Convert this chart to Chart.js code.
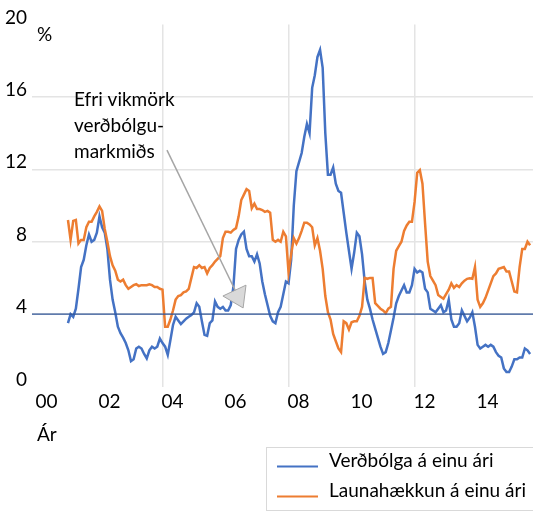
<!DOCTYPE html>
<html>
<head>
<meta charset="utf-8">
<script src="https://cdn.jsdelivr.net/npm/chart.js@4.4.1/dist/chart.umd.min.js"></script>
<style>
  html, body { margin: 0; padding: 0; background: #fff; }
  #wrap { width: 533px; height: 511px; }
</style>
</head>
<body>
<div id="wrap"><canvas id="chart" width="533" height="511"></canvas></div>
<script>
// Monthly 12-month changes, Jan 2001 onwards (index 0 = Jan 2001)
const FIRST_YEAR = 2001;

const inflation = [
  3.5, 4.0, 3.85, 4.3, 5.4, 6.6, 7.0, 7.8, 8.4, 8.0, 8.1, 8.5,
  9.4, 8.8, 8.5, 7.6, 5.9, 4.8, 4.1, 3.3, 2.95, 2.7, 2.4, 2.0,
  1.4, 1.5, 2.1, 2.2, 2.1, 1.8, 1.55, 2.0, 2.2, 2.1, 2.2, 2.65,
  2.4, 2.2, 1.75, 2.55, 3.4, 3.85, 3.65, 3.45, 3.6, 3.75, 3.85, 3.95,
  4.1, 4.6, 4.4, 3.6, 2.85, 2.8, 3.5, 3.65, 4.7, 4.4, 4.3, 4.4,
  4.2, 4.2, 4.5, 5.5, 7.6, 8.1, 8.4, 8.55, 7.6, 7.2, 7.2, 6.9,
  7.3, 6.8, 5.8, 5.1, 4.5, 3.9, 3.6, 3.5, 4.1, 4.4, 5.1, 5.8,
  5.7, 7.0, 10.0, 11.9, 12.4, 12.9, 13.8, 14.5, 14.0, 16.5, 17.2, 18.2,
  18.6, 17.6, 14.0, 11.7, 11.7, 12.1, 11.2, 10.8, 10.7, 9.6, 8.5, 7.5,
  6.5, 7.4, 8.5, 8.3, 7.3, 5.8, 4.8, 4.3, 3.7, 3.2, 2.7, 2.2,
  1.8, 1.9, 2.4, 3.1, 3.8, 4.6, 5.0, 5.3, 5.6, 5.2, 5.2, 5.6,
  6.5, 6.3, 6.4, 6.3, 5.4, 5.2, 4.3, 4.2, 4.1, 4.3, 4.5, 4.1,
  4.2, 4.8, 3.7, 3.3, 3.3, 3.5, 4.2, 3.9, 3.6, 3.8, 4.1, 3.3,
  2.3, 2.1, 2.2, 2.3, 2.2, 2.3, 2.2, 1.9, 1.7, 1.6, 1.0, 0.8,
  0.8, 1.1, 1.5, 1.5, 1.6, 1.6, 2.1, 2.0, 1.8
];

const wages = [
  9.2, 8.1, 9.15, 9.2, 7.9, 8.1, 8.1, 8.8, 9.1, 9.1, 9.4, 9.65,
  9.95, 9.7, 8.7, 8.0, 7.2, 6.7, 6.4, 5.9, 5.8, 5.9, 5.6, 5.4,
  5.5, 5.6, 5.65, 5.55, 5.6, 5.6, 5.6, 5.65, 5.6, 5.5, 5.5, 5.4,
  5.35, 3.3, 3.3, 3.7, 4.2, 4.8, 5.0, 5.05, 5.2, 5.25, 5.4, 6.0,
  6.6, 6.55, 6.7, 6.55, 6.6, 6.25, 6.55, 6.7, 6.9, 7.05, 7.2, 8.2,
  8.55, 8.55, 8.5, 8.65, 8.75, 9.4, 10.3, 10.6, 10.9, 10.8, 9.85, 10.1,
  9.8, 9.8, 9.75, 9.65, 9.7, 9.6, 8.1, 8.0, 8.1, 8.0, 8.55, 8.3,
  6.3, 7.3, 8.2, 7.9, 8.2, 8.6, 9.05, 9.05, 8.95, 8.8, 7.8, 8.2,
  7.5, 6.5, 5.0, 4.1, 3.7, 2.9, 2.5, 2.1, 1.9, 3.6, 3.5, 3.15,
  3.55, 3.6, 3.6, 3.9, 4.4, 6.0, 5.95, 6.0, 6.0, 4.6, 4.45, 4.3,
  4.2, 4.05, 4.3, 4.4, 6.5, 7.5, 7.75, 8.0, 8.6, 8.9, 9.1, 9.1,
  10.2, 11.8, 11.95, 11.2, 9.0, 6.9, 6.1, 5.85, 5.6, 5.05, 4.95, 4.85,
  5.1, 5.35, 5.7, 5.45, 5.6, 5.5, 5.7, 5.85, 5.95, 5.98, 5.95, 6.6,
  4.8, 4.4, 4.6, 4.9, 5.3, 5.7, 6.1, 6.25, 6.5, 6.55, 6.6, 6.35,
  6.35, 5.8, 5.25, 5.2, 6.6, 7.6, 7.6, 8.0, 7.8
];

const TARGET_UPPER = 4;

const xTickYears = [2000, 2002, 2004, 2006, 2008, 2010, 2012, 2014];
const xTickLabels = ["00", "02", "04", "06", "08", "10", "12", "14"];
const xGridYears = [2004, 2008, 2012];
const yGridValues = [4, 8, 12, 16];

const seriesLabels = ["Verðbólga á einu ári", "Launahækkun á einu ári"];
const seriesColors = ["#4472C4", "#ED7D31"];
const noteLines = ["Efri vikmörk", "verðbólgu-", "markmiðs"];

const X_MIN = -13.7;
const X_MAX = 177.1;
const FONT = "Lato, 'Open Sans', sans-serif";
const TEXT_SIZE = 19;

const monthOf = (year) => (year - FIRST_YEAR) * 12;
const toPoints = (arr) => arr.map((v, i) => ({ x: i, y: v }));

// annotation anchor points, in data units (month index, percent)
const note = {
  text: { x: 2.3, y: 15.83, step: 1.42 },
  lineFrom: { x: 37.7, y: 13.06 },
  lineTo: { x: 64, y: 5.22 },
  head: [{ x: 59.0, y: 5.0 }, { x: 67.8, y: 5.6 }, { x: 66.7, y: 4.34 }],
};

const extras = {
  id: "extras",
  afterDatasetsDraw(chart) {
    const { ctx, scales } = chart;
    const px = (p) => [scales.x.getPixelForValue(p.x), scales.y.getPixelForValue(p.y)];
    ctx.save();

    // arrow
    const [x1, y1] = px(note.lineFrom);
    const [x2, y2] = px(note.lineTo);
    ctx.strokeStyle = "#a5a5a5";
    ctx.lineWidth = 1.5;
    ctx.beginPath();
    ctx.moveTo(x1, y1);
    ctx.lineTo(x2, y2);
    ctx.stroke();
    ctx.beginPath();
    note.head.forEach((p, i) => {
      const [hx, hy] = px(p);
      if (i === 0) ctx.moveTo(hx, hy);
      else ctx.lineTo(hx, hy);
    });
    ctx.closePath();
    ctx.fillStyle = "#d9d9d9";
    ctx.fill();
    ctx.lineWidth = 1;
    ctx.strokeStyle = "#a5a5a5";
    ctx.stroke();

    // note text
    ctx.fillStyle = "#000";
    ctx.font = `${TEXT_SIZE}px ${FONT}`;
    ctx.textAlign = "left";
    ctx.textBaseline = "middle";
    noteLines.forEach((line, i) => {
      const [tx, ty] = px({ x: note.text.x, y: note.text.y - i * note.text.step });
      ctx.fillText(line, tx, ty);
    });
    ctx.restore();
  },
  afterDraw(chart) {
    const { ctx, chartArea } = chart;
    ctx.save();
    ctx.fillStyle = "#000";
    ctx.font = `${TEXT_SIZE}px ${FONT}`;
    ctx.textAlign = "left";
    ctx.textBaseline = "middle";
    ctx.fillText("%", chartArea.left + 5, 35);
    ctx.fillText("Ár", chartArea.left + 5, 435);

    // legend box
    ctx.strokeStyle = "#d9d9d9";
    ctx.lineWidth = 1;
    ctx.strokeRect(266.5, 447.5, 300, 63);
    ctx.textBaseline = "alphabetic";
    seriesLabels.forEach((label, i) => {
      const y = 466.5 + i * 30;
      ctx.strokeStyle = seriesColors[i];
      ctx.lineWidth = 2.2;
      ctx.beginPath();
      ctx.moveTo(277, y);
      ctx.lineTo(318, y);
      ctx.stroke();
      ctx.fillStyle = "#000";
      ctx.fillText(label, 329, y);
    });
    ctx.restore();
  },
};

new Chart(document.getElementById("chart"), {
  type: "line",
  data: {
    datasets: [
      {
        label: "target",
        data: [{ x: X_MIN, y: TARGET_UPPER }, { x: X_MAX, y: TARGET_UPPER }],
        borderColor: "#2F5597",
        borderWidth: 1.3,
        pointRadius: 0,
        order: 0,
      },
      {
        label: seriesLabels[1],
        data: toPoints(wages),
        borderColor: seriesColors[1],
        borderWidth: 2.5,
        pointRadius: 0,
        tension: 0,
        order: 1,
      },
      {
        label: seriesLabels[0],
        data: toPoints(inflation),
        borderColor: seriesColors[0],
        borderWidth: 2.5,
        pointRadius: 0,
        tension: 0,
        order: 2,
      },
    ],
  },
  options: {
    responsive: false,
    animation: false,
    layout: { padding: { top: 24.5, bottom: 84.5, left: 0, right: 0 } },
    plugins: { legend: { display: false }, tooltip: { enabled: false } },
    scales: {
      x: {
        type: "linear",
        min: X_MIN,
        max: X_MAX,
        afterBuildTicks: (axis) => {
          axis.ticks = xTickYears.map((yr) => ({ value: monthOf(yr) }));
        },
        afterFit: (axis) => { axis.height = 40; },
        border: { display: false },
        grid: {
          drawTicks: false,
          color: (c) =>
            c.tick && xGridYears.map(monthOf).includes(c.tick.value) ? "#e4e4e4" : "rgba(0,0,0,0)",
          lineWidth: 1.5,
        },
        ticks: {
          padding: 4,
          labelOffset: 10,
          maxRotation: 0,
          autoSkip: false,
          color: "#000",
          font: { family: FONT, size: TEXT_SIZE },
          callback: (v, i) => xTickLabels[i],
        },
      },
      y: {
        min: 0,
        max: 20,
        afterFit: (axis) => { axis.width = 32; },
        border: { display: false },
        grid: {
          drawTicks: false,
          color: (c) => (c.tick && yGridValues.includes(c.tick.value) ? "#e4e4e4" : "rgba(0,0,0,0)"),
          lineWidth: 1.5,
        },
        ticks: {
          stepSize: 4,
          padding: 5,
          labelOffset: -7,
          color: "#000",
          font: { family: FONT, size: TEXT_SIZE },
        },
      },
    },
  },
  plugins: [extras],
});
</script>
</body>
</html>
